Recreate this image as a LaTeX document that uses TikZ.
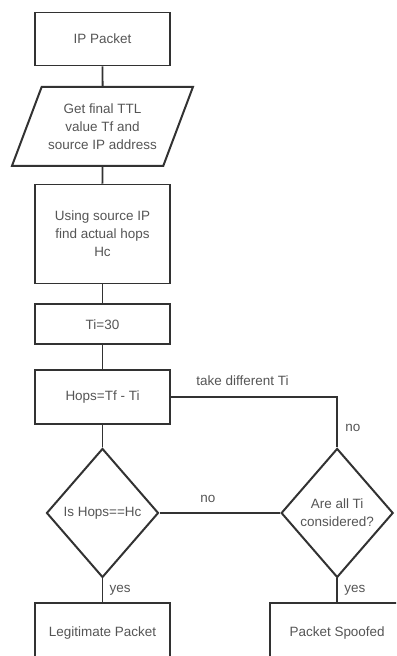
\documentclass[tikz,border=0pt]{standalone}
\usepackage{fontspec}
\setmainfont{Liberation Sans}
\usetikzlibrary{shapes.geometric, positioning}
\definecolor{linegray}{RGB}{50,50,50}
\definecolor{textgray}{RGB}{85,85,85}

\begin{document}
\begin{tikzpicture}[node distance=0.65cm,
    every node/.style={font=\fontsize{11.5}{15.3}\selectfont, text=textgray},
    process/.style={draw=linegray, line width=1.7pt, minimum width=4.05cm, align=center, inner sep=2pt},
    io/.style={trapezium, trapezium left angle=57, trapezium right angle=123, trapezium stretches body,
        draw=linegray, line width=1.7pt, minimum width=5.43cm, minimum height=2.37cm, align=center, inner sep=0pt},
    decision/.style={diamond, draw=linegray, line width=1.7pt, minimum width=3.36cm, minimum height=3.87cm,
        align=center, inner sep=0pt},
    link/.style={draw=linegray, line width=1.7pt}]
    \clip (0,0) rectangle (11.88,-19.68);
    \node[process, minimum height=1.59cm] (packet) at (3.075,-1.17) {IP Packet};
    \node[io] (input) [below=0.58cm of packet] {Get final TTL\\value Tf and\\source IP address};
    \node[process, minimum height=2.97cm] (findhops) [below=0.5cm of input] {Using source IP\\find actual hops\\Hc};
    \node[process, minimum height=1.2cm] (init) [below=0.57cm of findhops] {Ti=30};
    \node[process, minimum height=1.62cm] (hops) [below=0.7cm of init] {Hops=Tf - Ti};
    \node[decision] (dhops) [below=0.68cm of hops] {Is Hops==Hc};
    \node[decision] (dall) [right=3.62cm of dhops] {Are all Ti\\considered?};
    \node[process, minimum height=1.8cm] (legit) [below=0.7cm of dhops] {Legitimate Packet};
    \node[process, minimum height=1.8cm] (spoof) [below=0.7cm of dall] {Packet Spoofed};
    \coordinate (turn) at (dall |- hops.east);
    \path[link] (packet) -- (input);
    \path[link] (input) -- (findhops);
    \path[link] (findhops) -- (init);
    \path[link] (init) -- (hops);
    \path[link] (hops) -- (dhops);
    \path[link] (dhops) -- node[right=0.07cm, pos=0.5] {yes} (legit);
    \path[link] (dall) -- node[right=0.07cm, pos=0.5] {yes} (spoof);
    \path[link] (dhops) -- node[above=0.15cm, pos=0.4] {no} (dall);
    \path[link] (dall.north) -- node[right=0.1cm, pos=0.38] {no} (turn) -- node[above=0.2cm, pos=0.57] {take different Ti} (hops.east);
\end{tikzpicture}
\end{document}
